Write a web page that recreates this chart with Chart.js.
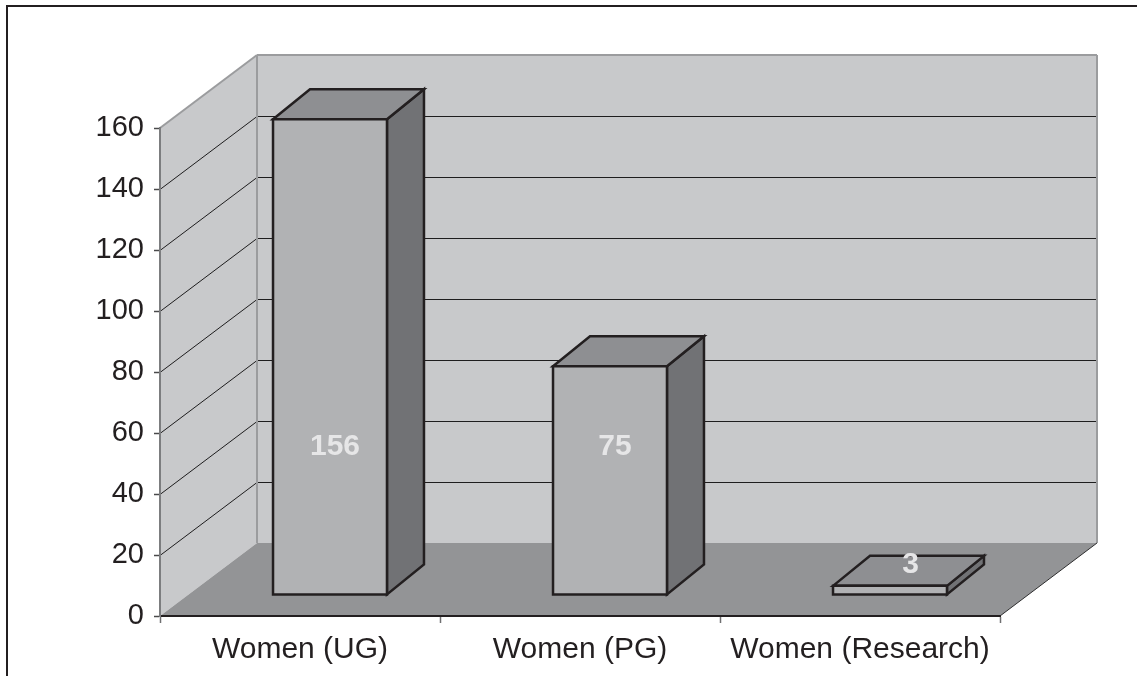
<!DOCTYPE html>
<html>
<head>
<meta charset="utf-8">
<title>Women enrolment</title>
<script src="https://cdn.jsdelivr.net/npm/chart.js@4/dist/chart.umd.min.js"></script>
<style>
  html, body { margin: 0; padding: 0; background: #ffffff; }
  #wrap { width: 1137px; height: 676px; }
</style>
</head>
<body>
<div id="wrap"><canvas id="chart" width="1137" height="676"></canvas></div>
<script>
// Categories and values shown on the columns
const categories = ['Women (UG)', 'Women (PG)', 'Women (Research)'];
const enrolment = [156, 75, 3];
// Value axis range and step
const axisMin = 0;
const axisMax = 160;
const axisStep = 20;

// Oblique projection of the 3D box
const WALL_DEPTH = { dx: 97, dy: -73 };   // front plane -> back wall
const BAR_SHIFT = { dx: 30, dy: -21 };    // front plane -> bar front face
const BAR_DEPTH = { dx: 37, dy: -30 };    // bar front face -> bar back face

const COLORS = {
  wall: '#c8c9cb',
  floor: '#939496',
  wallEdge: '#9b9c9e',
  grid: '#1e1d1e',
  barFront: '#b1b2b4',
  barTop: '#8e8f92',
  barSide: '#717275',
  outline: '#231f20',
  label: '#e6e6e7',
  text: '#231f20'
};

function poly(ctx, pts, fill, stroke, lw) {
  ctx.beginPath();
  ctx.moveTo(pts[0][0], pts[0][1]);
  for (let i = 1; i < pts.length; i++) ctx.lineTo(pts[i][0], pts[i][1]);
  ctx.closePath();
  if (fill) { ctx.fillStyle = fill; ctx.fill(); }
  if (stroke) { ctx.strokeStyle = stroke; ctx.lineWidth = lw; ctx.stroke(); }
}

function line(ctx, x1, y1, x2, y2, color, lw) {
  ctx.beginPath();
  ctx.moveTo(x1, y1);
  ctx.lineTo(x2, y2);
  ctx.strokeStyle = color;
  ctx.lineWidth = lw;
  ctx.stroke();
}

// Walls, floor, gridlines and the outer frame
const boxPlugin = {
  id: 'box3d',
  beforeDraw(chart) {
    const ctx = chart.ctx;
    const a = chart.chartArea;
    const ys = chart.scales.y;
    const { dx, dy } = WALL_DEPTH;
    const yTop = ys.getPixelForValue(axisMax);
    const yBase = ys.getPixelForValue(axisMin);
    ctx.save();

    // outer frame
    ctx.beginPath();
    ctx.moveTo(7, chart.height + 2);
    ctx.lineTo(7, 6);
    ctx.lineTo(chart.width + 2, 6);
    ctx.strokeStyle = COLORS.outline;
    ctx.lineWidth = 2;
    ctx.stroke();

    // back wall
    poly(ctx, [[a.left + dx, yTop + dy], [a.right + dx, yTop + dy], [a.right + dx, yBase + dy], [a.left + dx, yBase + dy]], COLORS.wall);
    // side wall
    poly(ctx, [[a.left, yTop], [a.left + dx, yTop + dy], [a.left + dx, yBase + dy], [a.left, yBase]], COLORS.wall);
    // floor
    poly(ctx, [[a.left, yBase], [a.left + dx, yBase + dy], [a.right + dx, yBase + dy], [a.right, yBase]], COLORS.floor);

    // gridlines on the side and back walls
    ys.ticks.forEach(t => {
      if (t.value <= axisMin || t.value >= axisMax) return;
      const y = Math.round(ys.getPixelForValue(t.value)) + 0.5;
      line(ctx, a.left, y, a.left + dx, y + dy, COLORS.grid, 1);
      line(ctx, a.left + dx, y + dy, a.right + dx, y + dy, COLORS.grid, 1);
    });

    // wall edges
    line(ctx, a.left, yTop, a.left + dx, yTop + dy, COLORS.wallEdge, 2);
    line(ctx, a.left + dx, yTop + dy, a.right + dx, yTop + dy, COLORS.wallEdge, 2);
    line(ctx, a.left + dx, yTop + dy, a.left + dx, yBase + dy, COLORS.wallEdge, 2);
    line(ctx, a.right + dx, yTop + dy, a.right + dx, yBase + dy, COLORS.wallEdge, 2);
    // floor right edge
    line(ctx, a.right, yBase, a.right + dx, yBase + dy, '#2e2e2f', 1);
    ctx.restore();
  }
};

// Columns drawn as boxes from the bar elements, with value labels
const columnPlugin = {
  id: 'columns3d',
  afterDatasetsDraw(chart) {
    const ctx = chart.ctx;
    const meta = chart.getDatasetMeta(0);
    const values = chart.data.datasets[0].data;
    ctx.save();
    ctx.lineJoin = 'miter';
    meta.data.forEach((bar, i) => {
      const p = bar.getProps(['x', 'y', 'base', 'width'], true);
      const left = p.x - p.width / 2 + BAR_SHIFT.dx;
      const right = p.x + p.width / 2 + BAR_SHIFT.dx;
      const top = p.y + BAR_SHIFT.dy;
      const bottom = p.base + BAR_SHIFT.dy;
      const bx = BAR_DEPTH.dx, by = BAR_DEPTH.dy;
      const lw = 2.5;
      poly(ctx, [[right, top], [right + bx, top + by], [right + bx, bottom + by], [right, bottom]], COLORS.barSide, COLORS.outline, lw);
      poly(ctx, [[left, top], [left + bx, top + by], [right + bx, top + by], [right, top]], COLORS.barTop, COLORS.outline, lw);
      poly(ctx, [[left, top], [right, top], [right, bottom], [left, bottom]], COLORS.barFront, COLORS.outline, lw);

      // value label: on the front face, or on the top face for a flat column
      const flat = (bottom - top) < 60;
      const lx = (left + right) / 2 + (flat ? bx / 2 + 2 : 5);
      const ly = flat ? top + by + 9 : bottom - 148;
      ctx.font = 'bold 30px "Liberation Sans", Arial, sans-serif';
      ctx.fillStyle = COLORS.label;
      ctx.textAlign = 'center';
      ctx.textBaseline = 'middle';
      ctx.fillText(String(values[i]), lx, ly);
    });
    ctx.restore();
  }
};

new Chart(document.getElementById('chart'), {
  type: 'bar',
  data: {
    labels: categories,
    datasets: [{
      data: enrolment,
      backgroundColor: 'rgba(0,0,0,0)',
      borderWidth: 0,
      categoryPercentage: 1,
      barPercentage: 0.407
    }]
  },
  options: {
    responsive: false,
    animation: false,
    events: [],
    layout: { padding: { left: 0, top: 128, right: 137, bottom: 0 } },
    plugins: {
      legend: { display: false },
      tooltip: { enabled: false },
      title: { display: false }
    },
    scales: {
      x: {
        afterFit(s) { s.height = 60; },
        grid: {
          display: true,
          offset: true,
          drawOnChartArea: false,
          drawTicks: true,
          tickLength: 7,
          tickColor: '#6f6f70',
          tickWidth: 1.5
        },
        border: { display: true, color: '#231f20', width: 2 },
        ticks: {
          color: COLORS.text,
          padding: 9,
          maxRotation: 0,
          autoSkip: false,
          font: { family: '"Liberation Sans", Arial, sans-serif', size: 30 }
        }
      },
      y: {
        min: axisMin,
        max: axisMax,
        afterFit(s) { s.width = 160; },
        grid: {
          display: true,
          drawOnChartArea: false,
          drawTicks: true,
          tickLength: 6,
          tickColor: '#4a4a4b',
          tickWidth: 1.5
        },
        border: { display: true, color: '#7c7d7f', width: 2 },
        ticks: {
          stepSize: axisStep,
          color: COLORS.text,
          padding: 10,
          font: { family: '"Liberation Sans", Arial, sans-serif', size: 29 }
        }
      }
    }
  },
  plugins: [boxPlugin, columnPlugin]
});
</script>
</body>
</html>
